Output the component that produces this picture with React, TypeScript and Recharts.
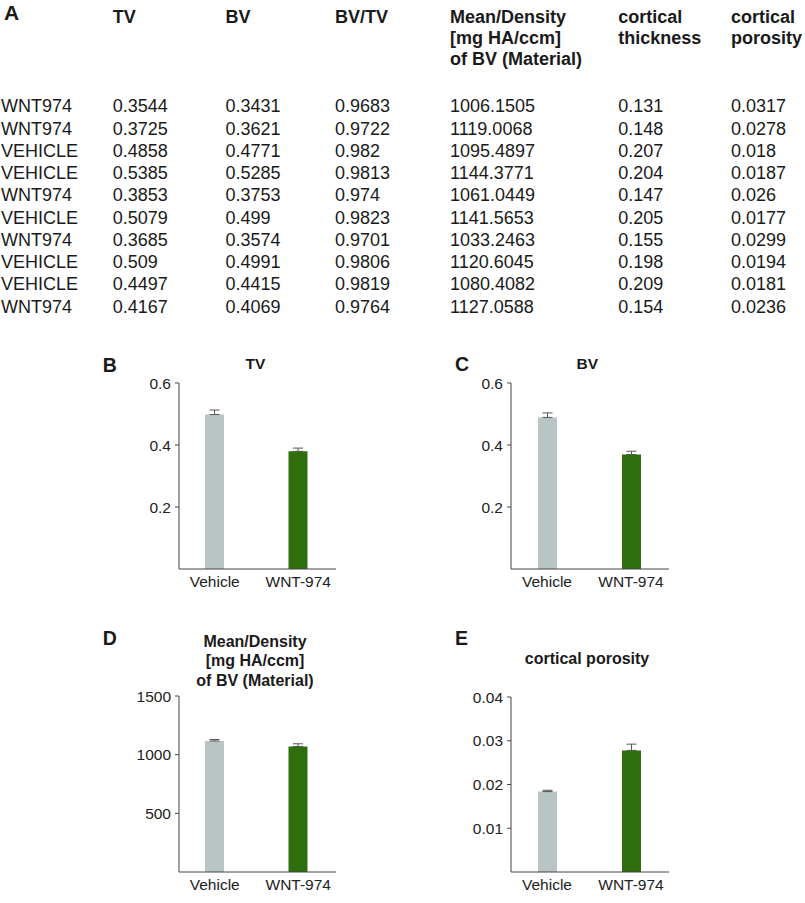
import React from 'react';
import { BarChart, Bar, XAxis, YAxis, ErrorBar, Cell } from 'recharts';

// ---------- Table (panel A) ----------
const tableHeaders = [
  ['TV'],
  ['BV'],
  ['BV/TV'],
  ['Mean/Density', '[mg HA/ccm]', 'of BV (Material)'],
  ['cortical', 'thickness'],
  ['cortical', 'porosity'],
];
const rowLabels = ['WNT974', 'WNT974', 'VEHICLE', 'VEHICLE', 'WNT974', 'VEHICLE', 'WNT974', 'VEHICLE', 'VEHICLE', 'WNT974'];
const tvCol = ['0.3544', '0.3725', '0.4858', '0.5385', '0.3853', '0.5079', '0.3685', '0.509', '0.4497', '0.4167'];
const bvCol = ['0.3431', '0.3621', '0.4771', '0.5285', '0.3753', '0.499', '0.3574', '0.4991', '0.4415', '0.4069'];
const bvtvCol = ['0.9683', '0.9722', '0.982', '0.9813', '0.974', '0.9823', '0.9701', '0.9806', '0.9819', '0.9764'];
const densityCol = ['1006.1505', '1119.0068', '1095.4897', '1144.3771', '1061.0449', '1141.5653', '1033.2463', '1120.6045', '1080.4082', '1127.0588'];
const thicknessCol = ['0.131', '0.148', '0.207', '0.204', '0.147', '0.205', '0.155', '0.198', '0.209', '0.154'];
const porosityCol = ['0.0317', '0.0278', '0.018', '0.0187', '0.026', '0.0177', '0.0299', '0.0194', '0.0181', '0.0236'];

// ---------- Bar panels ----------
const groups = ['Vehicle', 'WNT-974'];
const groupColors = ['#b9c4c4', '#2e6e0c'];
const tvMeans = [0.4982, 0.3795];
const tvSem = [0.0147, 0.0105];
const bvMeans = [0.489, 0.369];
const bvSem = [0.0144, 0.0108];
const densityMeans = [1116.5, 1069.3];
const densitySem = [12.6, 23.6];
const porosityMeans = [0.01838, 0.0278];
const porositySem = [0.0003, 0.00142];

const tvTicks = [0.2, 0.4, 0.6];
const bvTicks = [0.2, 0.4, 0.6];
const densityTicks = [500, 1000, 1500];
const porosityTicks = [0.01, 0.02, 0.03, 0.04];

const FONT = '"Liberation Sans", Arial, Helvetica, sans-serif';

const build = (means: number[], sems: number[]) =>
  groups.map((g, i) => ({ group: g, mean: means[i], err: [0, sems[i]] }));

function Panel(props: {
  left: number; top: number; width: number; height: number;
  means: number[]; sems: number[]; domain: [number, number]; ticks: number[];
}) {
  const data = build(props.means, props.sems);
  return (
    <div style={{ position: 'absolute', left: props.left, top: props.top }}>
      <BarChart width={props.width} height={props.height} data={data}
        margin={{ top: 13, right: 0, bottom: 0, left: 0 }}>
        <XAxis dataKey="group" interval={0} height={31}
          axisLine={{ stroke: '#444', strokeWidth: 1 }} tickLine={false}
          tickSize={0} tickMargin={7}
          padding={{ left: -6, right: -4 }}
          tick={{ fill: '#222', fontSize: 15.5, fontFamily: FONT }} />
        <YAxis type="number" domain={props.domain} ticks={props.ticks} width={59}
          axisLine={{ stroke: '#444', strokeWidth: 1 }}
          tickLine={{ stroke: '#444' }} tickSize={4} tickMargin={4}
          allowDecimals
          tick={{ fill: '#222', fontSize: 15.5, fontFamily: FONT }} />
        <Bar dataKey="mean" barSize={19} isAnimationActive={false}>
          {data.map((d, i) => <Cell key={i} fill={groupColors[i]} />)}
          <ErrorBar dataKey="err" width={5} stroke="#555" strokeWidth={1} direction="y" />
        </Bar>
      </BarChart>
    </div>
  );
}

const colX = [1, 112.7, 225.5, 335, 450, 618.3, 731];
const headerBaselines = [22.7, 43.7, 64.5];
const rowBaseline = (i: number) => 112.3 + i * 22.27;

export default function App() {
  const dataCols = [rowLabels, tvCol, bvCol, bvtvCol, densityCol, thicknessCol, porosityCol];
  return (
    <div style={{ position: 'absolute', left: 0, top: 0, width: 805, height: 903, background: '#fff', overflow: 'hidden', fontFamily: FONT }}>
      <svg width={805} height={903} style={{ position: 'absolute', left: 0, top: 0 }}>
        <g fontFamily={FONT} fill="#1a1a1a">
          <text x={4} y={20} fontSize={21} fontWeight="bold">A</text>
          {tableHeaders.map((lines, c) =>
            lines.map((t, l) => (
              <text key={`h${c}-${l}`} x={colX[c + 1]} y={headerBaselines[l]} fontSize={18} fontWeight="bold">{t}</text>
            ))
          )}
          {dataCols.map((col, c) =>
            col.map((t, r) => (
              <text key={`d${c}-${r}`} x={colX[c]} y={rowBaseline(r)} fontSize={18}>{t}</text>
            ))
          )}
          <text x={102.7} y={371.7} fontSize={19.5} fontWeight="bold">B</text>
          <text x={455} y={370.7} fontSize={19.5} fontWeight="bold">C</text>
          <text x={102.7} y={645} fontSize={19.5} fontWeight="bold">D</text>
          <text x={455} y={645} fontSize={19.5} fontWeight="bold">E</text>
          <text x={255.5} y={369.3} fontSize={15.5} fontWeight="bold" textAnchor="middle">TV</text>
          <text x={587.3} y={369.3} fontSize={15.5} fontWeight="bold" textAnchor="middle">BV</text>
          <text x={255} y={646.7} fontSize={16} fontWeight="bold" textAnchor="middle">Mean/Density</text>
          <text x={255} y={666.4} fontSize={16} fontWeight="bold" textAnchor="middle">[mg HA/ccm]</text>
          <text x={255} y={686} fontSize={16} fontWeight="bold" textAnchor="middle">of BV (Material)</text>
          <text x={587} y={664} fontSize={16} fontWeight="bold" textAnchor="middle">cortical porosity</text>
        </g>
      </svg>
      <Panel left={120} top={370} width={216} height={230} means={tvMeans} sems={tvSem} domain={[0, 0.6]} ticks={tvTicks} />
      <Panel left={452} top={370} width={217} height={230} means={bvMeans} sems={bvSem} domain={[0, 0.6]} ticks={bvTicks} />
      <Panel left={120} top={683} width={216} height={220} means={densityMeans} sems={densitySem} domain={[0, 1500]} ticks={densityTicks} />
      <Panel left={452} top={684} width={217} height={219} means={porosityMeans} sems={porositySem} domain={[0, 0.04]} ticks={porosityTicks} />
    </div>
  );
}
